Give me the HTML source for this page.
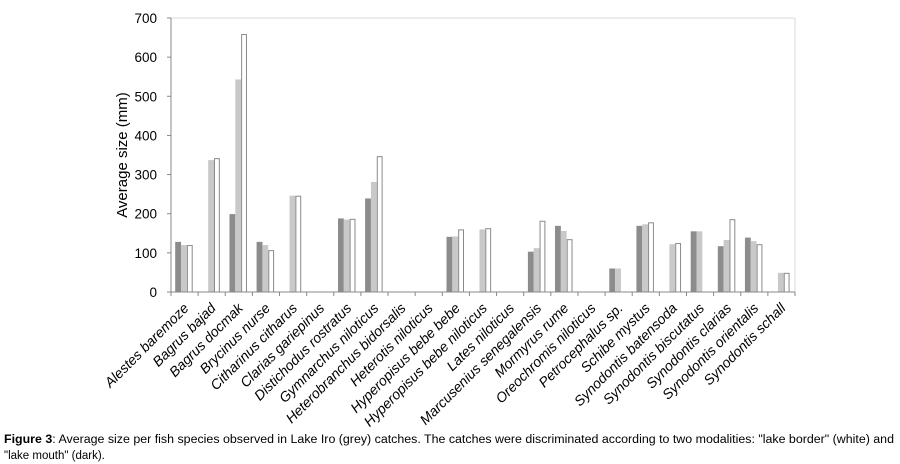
<!DOCTYPE html>
<html><head><meta charset="utf-8"><style>
body{margin:0;background:#fff;width:900px;height:464px;overflow:hidden}
svg{display:block}
text{font-family:"Liberation Sans",sans-serif}
</style></head><body>
<svg id="chart" width="900" height="464">
<g id="grid"></g><g id="bars"></g><g id="axes"></g><g id="labels"></g>
<text transform="translate(127,155) rotate(-90)" text-anchor="middle" font-size="15" fill="#000">Average size (mm)</text>
<text x="4" y="443" font-size="11.5" textLength="890" lengthAdjust="spacingAndGlyphs"><tspan font-weight="bold">Figure 3</tspan>: Average size per fish species observed in Lake Iro (grey) catches. The catches were discriminated according to two modalities: "lake border" (white) and</text>
<text x="4" y="459" font-size="11.5">"lake mouth" (dark).</text>
</svg>
<script>
const categories=["Alestes baremoze","Bagrus bajad","Bagrus docmak","Brycinus nurse","Citharinus citharus","Clarias gariepinus","Distichodus rostratus","Gymnarchus niloticus","Heterobranchus bidorsalis","Heterotis niloticus","Hyperopisus bebe bebe","Hyperopisus bebe niloticus","Lates niloticus","Marcusenius senegalensis","Mormyrus rume","Oreochromis niloticus","Petrocephalus  sp.","Schibe mystus","Synodontis batensoda","Synodontis biscutatus","Synodontis clarias","Synodontis orientalis","Synodontis schall"];
const mouthDark=[128,0,199,128,0,0,188,239,0,0,141,0,0,103,169,0,60,169,0,155,117,139,0];
const lakeGrey=[120,337,543,120,246,0,185,281,0,0,142,160,0,112,156,0,60,173,122,155,133,130,49];
const borderWhite=[120,342,659,107,246,0,187,347,0,0,160,163,0,182,135,0,0,178,125,0,186,122,49];
const yTicks=[0,100,200,300,400,500,600,700];
const NS="http://www.w3.org/2000/svg";
const x0=171,x1=795,y0=292,yTop=18,yMax=700;
const cw=(x1-x0)/categories.length;
const y=v=>y0-(v/yMax)*(y0-yTop);
const xc=i=>x0+i*cw;
function mk(t,a,p){const e=document.createElementNS(NS,t);for(const k in a)e.setAttribute(k,a[k]);p.appendChild(e);return e;}
const G=document.getElementById('grid'),B=document.getElementById('bars'),A=document.getElementById('axes'),L=document.getElementById('labels');
let l=mk('line',{x1:x0,x2:x1,y1:yTop,y2:yTop,stroke:'#d9d9d9'},G);


l=mk('line',{x1:x1,x2:x1,y1:yTop,y2:y0,stroke:'#d9d9d9'},G);


l=mk('line',{x1:x0,x2:x0,y1:yTop,y2:y0,stroke:'#888'},A);


yTicks.forEach(v=>{
 let t=mk('line',{x1:x0-4,x2:x0,y1:y(v),y2:y(v),stroke:'#888'},A);
 
 
 let tx=mk('text',{x:x0-14,y:y(v)+5,'text-anchor':'end','font-size':'13.5'},A);
 tx.textContent=v;
 
 
});
const bw=cw*0.215;
const series=[[mouthDark,'#8c8c8c','#8c8c8c','bar-lake-mouth'],[lakeGrey,'#c9c9c9','#c9c9c9','bar-lake-iro'],[borderWhite,'#fff','#8a8a8a','bar-lake-border']];
categories.forEach((c,i)=>{
 const gs=xc(i)+4.2;
 series.forEach((s,j)=>{
  const v=s[0][i]; if(!v) return;
  let r=mk('rect',{x:gs+j*bw+(j==2?0.5:0),y:y(v)+(j==2?0.5:0),width:bw-(j==2?1:0),height:y0-y(v)-(j==2?0.5:0),fill:s[1],stroke:j==2?s[2]:'none','stroke-width':1},B);
  
  
 });
 let t=mk('line',{x1:xc(i),x2:xc(i),y1:y0,y2:y0+4,stroke:'#888'},A);
 
 
 const cx=xc(i)+cw/2+5;
 let tx=mk('text',{transform:`translate(${cx},${y0+17}) rotate(-45)`,'text-anchor':'end','font-size':'14','font-style':'italic'},L);
 tx.textContent=c;
 
 
});
let t=mk('line',{x1:x1,x2:x1,y1:y0,y2:y0+4,stroke:'#888'},A);


l=mk('line',{x1:x0,x2:x1,y1:y0,y2:y0,stroke:'#888'},A);


</script>
</body></html>
